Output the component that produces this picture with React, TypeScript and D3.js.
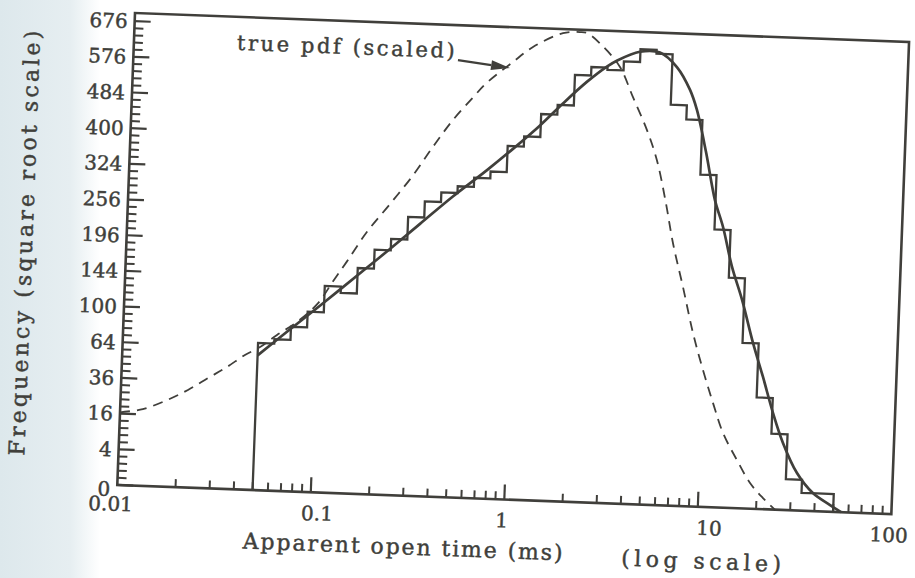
import React, { useEffect, useRef } from "react";
import * as d3 from "d3";

// Histogram of apparent open times: 12 log-spaced bins per decade, 0.05 to 50 ms
const binEdges = [
  0.05, 0.0606, 0.0734, 0.0889, 0.1077, 0.1305, 0.1581, 0.1916, 0.2321, 0.2812,
  0.3406, 0.4127, 0.5, 0.6058, 0.7339, 0.8891, 1.077, 1.305, 1.581, 1.916,
  2.321, 2.812, 3.406, 4.127, 5.0, 6.058, 7.339, 8.891, 10.77, 13.05,
  15.81, 19.16, 23.21, 28.12, 34.07, 41.27, 50,
];
const binCounts = [
  68, 72, 85, 102, 134, 126, 160, 188, 206, 244, 273, 291, 304, 322, 336, 392,
  415, 469, 493, 572, 595, 589, 614, 650, 639, 504, 469, 346, 242, 166, 86, 39,
  18, 3, 1, 1,
];

// Fitted density (solid line)
const fitTime = [
  0.05, 0.0704, 0.1033, 0.168, 0.2297, 0.3247, 0.474, 0.703, 0.948, 1.29,
  1.682, 2.213, 2.79, 3.13, 4.1, 5.21, 6.41, 7.57, 8.29, 9.41, 10.69, 11.91,
  13.49, 15.43, 17.91, 20.47, 23.44, 26.73, 32.0, 39.0, 48.1, 55,
];
const fitFreq = [
  57, 80, 110, 156, 190, 232.6, 284, 338.6, 386, 441, 497, 554.6, 597.8,
  615, 642.6, 642.6, 603.7, 543.8, 493.4, 395, 296, 246.9, 182.2, 136.2, 86.2,
  54.8, 29.2, 14.1, 4.4, 1.02, 0.14, 0,
];

// True pdf, scaled (dashed line)
const pdfTime = [
  0.01, 0.0131, 0.0174, 0.0222, 0.028, 0.0349, 0.043, 0.0513, 0.0624, 0.0787,
  0.1, 0.1175, 0.1387, 0.1737, 0.2257, 0.292, 0.366, 0.459, 0.577, 0.676, 0.9,
  1.149, 1.632, 1.995, 2.17, 2.636, 3.26, 3.85, 4.62, 5.27, 5.95, 6.62, 7.6,
  8.74, 10.0, 11.43, 13.05, 15.6, 18.4, 21.6, 25,
];
const pdfFreq = [
  16.6, 18.5, 23.6, 29.9, 38.1, 46.7, 56.9, 64.3, 76.2, 90.3, 112, 139, 169,
  216, 266, 322, 384, 447, 504, 543, 598, 644.6, 688, 693, 691, 654, 598, 520,
  440, 373, 290, 216, 150.6, 94.3, 58.8, 34.2, 17.5, 7.25, 2.07, 0.39, 0,
];

// Axis ticks
const yTickValues = [0, 4, 16, 36, 64, 100, 144, 196, 256, 324, 400, 484, 576, 676];
const xTickValues = [0.01, 0.1, 1, 10, 100];
const xTickLabels = ["0.01", "0.1", "1", "10", "100"];
// horizontal nudges of the x labels relative to their ticks (px)
const xLabelNudge = [-6, 7, -2, 12, -2];

const INK = "#403f3b";
const FONT = "'DejaVu Serif', serif";

export default function App() {
  const ref = useRef<SVGSVGElement | null>(null);

  useEffect(() => {
    const svg = d3.select(ref.current);
    svg.selectAll("*").remove();

    const W = 774.6;
    const H = 472.3;

    // paper, with the slightly tinted outer margin on the left
    const defs = svg.append("defs");
    const grad = defs.append("linearGradient").attr("id", "paperTint")
      .attr("x1", 0).attr("x2", 1).attr("y1", 0).attr("y2", 0);
    grad.append("stop").attr("offset", "0").attr("stop-color", "#dde8ec");
    grad.append("stop").attr("offset", "0.7").attr("stop-color", "#e6eef1");
    grad.append("stop").attr("offset", "1").attr("stop-color", "#ffffff");
    svg.append("rect").attr("width", 915).attr("height", 578).attr("fill", "#ffffff");
    svg.append("rect").attr("width", 100).attr("height", 578).attr("fill", "url(#paperTint)");

    const g = svg.append("g").attr("transform", "translate(135,13) rotate(2.15)");

    const x = d3.scaleLog().domain([0.01, 100]).range([0, W]);
    const y = d3.scaleSqrt().domain([0, 700]).range([H, 0]);

    const label = (sel: d3.Selection<SVGTextElement, unknown, null, undefined>, size: number) =>
      sel
        .attr("font-family", FONT)
        .attr("font-size", size)
        .attr("fill", INK)
        .attr("stroke", INK)
        .attr("stroke-width", 0.45);

    // frame
    g.append("rect")
      .attr("x", 0).attr("y", 0).attr("width", W).attr("height", H)
      .attr("fill", "none").attr("stroke", INK).attr("stroke-width", 2.6);

    // y ticks: majors at even roots, minors every 0.4 in root units
    yTickValues.forEach((v) => {
      g.append("line")
        .attr("x1", 0).attr("x2", 16).attr("y1", y(v)).attr("y2", y(v))
        .attr("stroke", INK).attr("stroke-width", 2.2);
    });
    d3.range(0.4, 26.3, 0.4).forEach((r) => {
      if (Math.abs(r / 2 - Math.round(r / 2)) < 0.01) return;
      const v = r * r;
      g.append("line")
        .attr("x1", 0).attr("x2", 9).attr("y1", y(v)).attr("y2", y(v))
        .attr("stroke", INK).attr("stroke-width", 2);
    });

    // x ticks
    [0.01, 0.1, 1, 10].forEach((dec) => {
      for (let m = 2; m <= 9; m++) {
        const xv = x(m * dec);
        g.append("line")
          .attr("x1", xv).attr("x2", xv).attr("y1", H).attr("y2", H - 8)
          .attr("stroke", INK).attr("stroke-width", 2);
      }
    });
    [0.1, 1, 10].forEach((v) => {
      g.append("line")
        .attr("x1", x(v)).attr("x2", x(v)).attr("y1", H).attr("y2", H - 15)
        .attr("stroke", INK).attr("stroke-width", 2.2);
    });

    // y labels
    yTickValues.forEach((v) => {
      label(
        g.append("text")
          .attr("x", -7).attr("y", y(v) + (v === 0 ? 4 : 0)).attr("dy", "0.36em")
          .attr("text-anchor", "end"),
        20
      ).text(String(v));
    });

    // x labels
    xTickValues.forEach((v, i) => {
      label(
        g.append("text")
          .attr("x", x(v) + xLabelNudge[i])
          .attr("y", H + (i === 0 ? 26 : 28))
          .attr("text-anchor", "middle"),
        20
      ).text(xTickLabels[i]);
    });

    // histogram outline
    const pts: [number, number][] = [[x(binEdges[0]), y(0)]];
    binCounts.forEach((c, i) => {
      pts.push([x(binEdges[i]), y(c)]);
      pts.push([x(binEdges[i + 1]), y(c)]);
    });
    pts.push([x(binEdges[binEdges.length - 1]), y(0)]);
    g.append("path")
      .attr("d", d3.line()(pts))
      .attr("fill", "none").attr("stroke", INK).attr("stroke-width", 2.3)
      .attr("stroke-linejoin", "miter");

    const curve = d3
      .line<[number, number]>()
      .x((d) => x(d[0]))
      .y((d) => y(d[1]))
      .curve(d3.curveCatmullRom.alpha(0.5));

    // fitted density
    g.append("path")
      .attr("d", curve(fitTime.map((t, i) => [t, fitFreq[i]] as [number, number])))
      .attr("fill", "none").attr("stroke", INK).attr("stroke-width", 2.7);

    // true pdf
    g.append("path")
      .attr("d", curve(pdfTime.map((t, i) => [t, pdfFreq[i]] as [number, number])))
      .attr("fill", "none").attr("stroke", INK).attr("stroke-width", 1.8)
      .attr("stroke-dasharray", "10,7");

    // annotation
    label(
      g.append("text")
        .attr("x", 212).attr("y", 33)
        .attr("text-anchor", "middle")
        .attr("textLength", 218).attr("lengthAdjust", "spacing"),
      21
    ).text("true pdf (scaled)");

    const ax0 = 324.5, ay0 = 34.9;
    const ax1 = x(0.883), ay1 = y(584);
    const ang = Math.atan2(ay1 - ay0, ax1 - ax0);
    const headLen = 19, headHalf = 5;
    const bx = ax1 - headLen * Math.cos(ang), by = ay1 - headLen * Math.sin(ang);
    g.append("line")
      .attr("x1", ax0).attr("y1", ay0).attr("x2", bx).attr("y2", by)
      .attr("stroke", INK).attr("stroke-width", 2.2);
    g.append("path")
      .attr("d", `M${ax1},${ay1} L${bx - headHalf * Math.sin(ang)},${by + headHalf * Math.cos(ang)} L${bx + headHalf * Math.sin(ang)},${by - headHalf * Math.cos(ang)} Z`)
      .attr("fill", INK);

    // axis titles
    label(
      g.append("text")
        .attr("x", 287.6).attr("y", 531)
        .attr("text-anchor", "middle")
        .attr("textLength", 320).attr("lengthAdjust", "spacing"),
      22
    ).text("Apparent open time (ms)");
    label(
      g.append("text")
        .attr("x", 586.4).attr("y", 534)
        .attr("text-anchor", "middle")
        .attr("textLength", 160).attr("lengthAdjust", "spacing"),
      22
    ).text("(log scale)");
    label(
      g.append("text")
        .attr("transform", "translate(-94,234) rotate(-90)")
        .attr("text-anchor", "middle")
        .attr("textLength", 425).attr("lengthAdjust", "spacing"),
      22
    ).text("Frequency (square root scale)");
  }, []);

  return (
    <svg
      ref={ref}
      width={915}
      height={578}
      style={{ position: "absolute", left: 0, top: 0, display: "block" }}
    />
  );
}
